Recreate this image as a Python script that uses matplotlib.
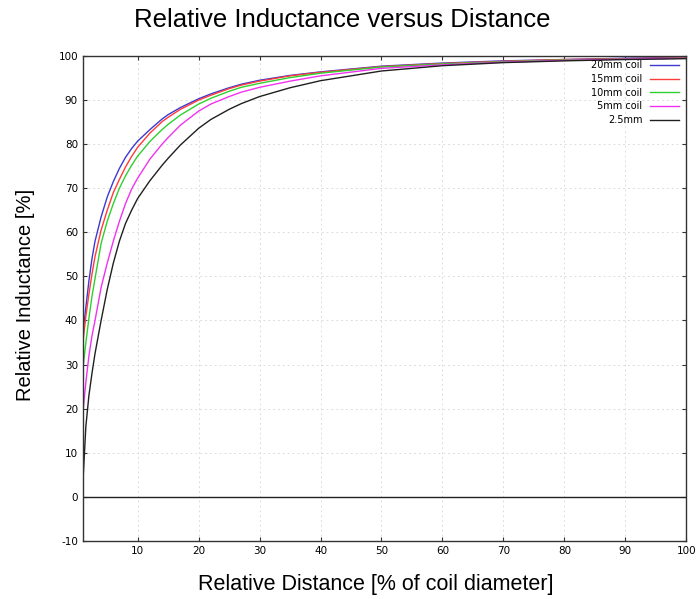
import matplotlib
matplotlib.use("Agg")
import matplotlib.pyplot as plt

plt.rcParams["axes.unicode_minus"] = False

# relative distance, % of coil diameter
distance = [1, 1.5, 2, 2.5, 3, 4, 5, 6, 7, 8, 9, 10, 12, 14, 15, 17, 20, 22,
            25, 27, 30, 35, 40, 50, 60, 70, 80, 90, 100]

# relative inductance, %
coil_20mm = [37, 43, 49, 54, 58, 63.5, 68, 71.5, 74.5, 77, 79, 80.7, 83.3, 85.7, 86.7, 88.3, 90.3, 91.4,
             92.8, 93.6, 94.5, 95.6, 96.4, 97.7, 98.4, 98.9, 99.2, 99.5, 99.7]
coil_15mm = [35, 41, 46, 50.5, 54.5, 60.5, 65, 69, 72, 74.8, 77.2, 79.3, 82.5, 85.1, 86.1, 87.9, 90, 91.1,
             92.6, 93.4, 94.3, 95.5, 96.3, 97.6, 98.3, 98.8, 99.2, 99.4, 99.6]
coil_10mm = [29, 35, 40.5, 45.5, 49.5, 57.5, 62.5, 66.5, 70, 72.8, 75.2, 77.3, 80.6, 83.3, 84.5, 86.6, 89.1, 90.4,
             92, 92.9, 93.8, 95.1, 96.1, 97.5, 98.2, 98.7, 99.1, 99.3, 99.5]
coil_5mm = [19, 26, 32, 36.5, 40, 47.5, 53, 58, 62.5, 66.5, 69.8, 72.3, 76.6, 80, 81.5, 84.3, 87.5, 89.1,
            90.8, 91.8, 92.9, 94.3, 95.5, 97.2, 98.0, 98.6, 99.0, 99.3, 99.5]
coil_2_5mm = [3, 16, 23, 28, 32.5, 40, 47, 53, 58, 62, 65, 67.7, 71.7, 75.2, 76.8, 79.8, 83.6, 85.6,
              87.9, 89.2, 90.8, 92.8, 94.4, 96.6, 97.8, 98.5, 98.9, 99.2, 99.4]

series = [
    ("20mm coil", coil_20mm, "#3a3ad0"),
    ("15mm coil", coil_15mm, "#ff3b3b"),
    ("10mm coil", coil_10mm, "#2fd02f"),
    ("5mm coil", coil_5mm, "#f032f0"),
    ("2.5mm", coil_2_5mm, "#202020"),
]

fig = plt.figure(figsize=(6.96, 5.99), dpi=100)
ax = fig.add_axes([0.119, 0.097, 0.867, 0.8095])

for label, vals, color in series:
    ax.plot(distance, vals, color=color, lw=1.0, label=label)

ax.axhline(0, color="#222222", lw=1.0)

ax.set_xlim(1, 100)
ax.set_ylim(-10, 100)
ax.set_xticks(range(10, 101, 10))
ax.set_yticks(range(-10, 101, 10))
ax.grid(True, color="#dddddd", ls=(0, (2, 3)), lw=0.7)
ax.tick_params(direction="in", top=True, right=True, labelsize=7.5, length=3, color="#333333")
for s in ax.spines.values():
    s.set_color("#333333")
    s.set_linewidth(1.0)

fig.text(0.492, 0.966, "Relative Inductance versus Distance", ha="center", va="center",
         fontsize=18.5, family="Liberation Sans")
fig.text(0.54, 0.024, "Relative Distance [% of coil diameter]", ha="center", va="center",
         fontsize=15.5, family="Liberation Sans")
fig.text(0.037, 0.508, "Relative Inductance [%]", ha="center", va="center", rotation=90,
         fontsize=14.5, family="Liberation Sans")

ax.legend(loc="upper right", frameon=False, markerfirst=False, fontsize=7,
          handlelength=3, labelspacing=0.38, borderaxespad=0.3,
          bbox_to_anchor=(1.0, 1.005))

fig.savefig("out.png", dpi=100)
